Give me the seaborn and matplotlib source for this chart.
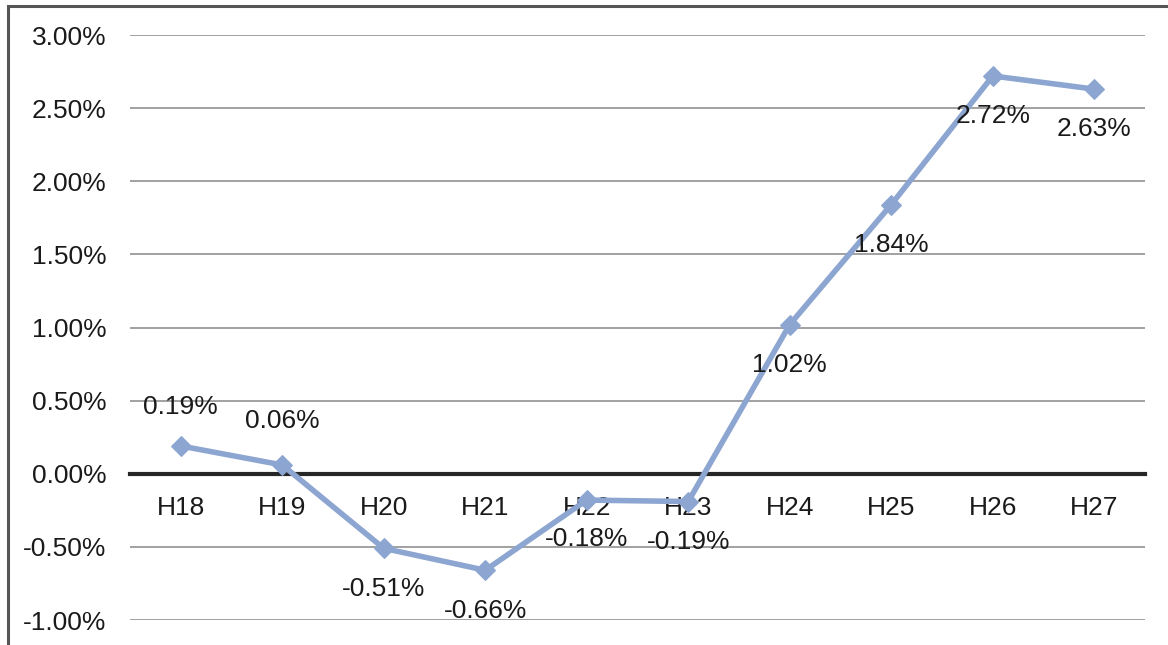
import matplotlib
matplotlib.use("Agg")
import matplotlib.pyplot as plt
from matplotlib.ticker import PercentFormatter, MultipleLocator
from matplotlib.patches import Rectangle
import seaborn as sns
import pandas as pd

# ---- data ----
categories = ["H18", "H19", "H20", "H21", "H22", "H23", "H24", "H25", "H26", "H27"]
values = [0.19, 0.06, -0.51, -0.66, -0.18, -0.19, 1.02, 1.84, 2.72, 2.63]
value_labels = ["0.19%", "0.06%", "-0.51%", "-0.66%", "-0.18%", "-0.19%",
                "1.02%", "1.84%", "2.72%", "2.63%"]

sns.set_style("white")
plt.rcParams['font.family'] = ['Liberation Sans', 'DejaVu Sans']
plt.rcParams['axes.unicode_minus'] = False

df = pd.DataFrame({"cat": categories, "val": values})

fig = plt.figure(figsize=(11.68, 6.45), dpi=100)
ax = fig.add_axes([130/1168, 1 - 620/645, (1145-130)/1168, (620-35)/645])

line_color = "#8CA6D1"
sns.lineplot(data=df, x="cat", y="val", ax=ax, sort=False, color=line_color,
             linewidth=4.0, marker="D", markersize=10.5, markeredgecolor=line_color,
             markerfacecolor=line_color)

ax.set_xlim(-0.5, len(categories) - 0.5)
ax.set_ylim(-1.0, 3.0)
ax.yaxis.set_major_locator(MultipleLocator(0.5))
ax.yaxis.set_major_formatter(PercentFormatter(decimals=2))
ax.grid(axis="y", color="#9a9a9a", linewidth=1.3)
ax.grid(axis="x", visible=False)
ax.set_axisbelow(True)

for s in ["top", "right", "left"]:
    ax.spines[s].set_visible(False)
ax.spines["bottom"].set_position(("data", 0))
ax.spines["bottom"].set_color("#262626")
ax.spines["bottom"].set_linewidth(3.0)
ax.spines["bottom"].set_zorder(1.5)

ax.tick_params(axis="x", length=0, pad=16, labelsize=19, colors="#1a1a1a")
ax.tick_params(axis="y", length=0, pad=17, labelsize=19, colors="#1a1a1a")
ax.set_xlabel("")
ax.set_ylabel("")

# label offsets (points): first two above, the rest below
offsets = [-28, -32, 29, 29, 28, 29, 29, 29, 29, 29]
for i, (v, lab) in enumerate(zip(values, value_labels)):
    ax.annotate(lab, xy=(i, v), xytext=(0, -offsets[i]), textcoords="offset points",
                ha="center", va="center", fontsize=19, color="#1a1a1a", zorder=5)

# outer frame of the scanned chart
fig.patches.append(Rectangle((8/1168, -0.2), 1.2, 1.2 - 6/645,
                             transform=fig.transFigure, fill=False,
                             edgecolor="#555555", linewidth=2.2))

fig.savefig("out.png", dpi=100)
